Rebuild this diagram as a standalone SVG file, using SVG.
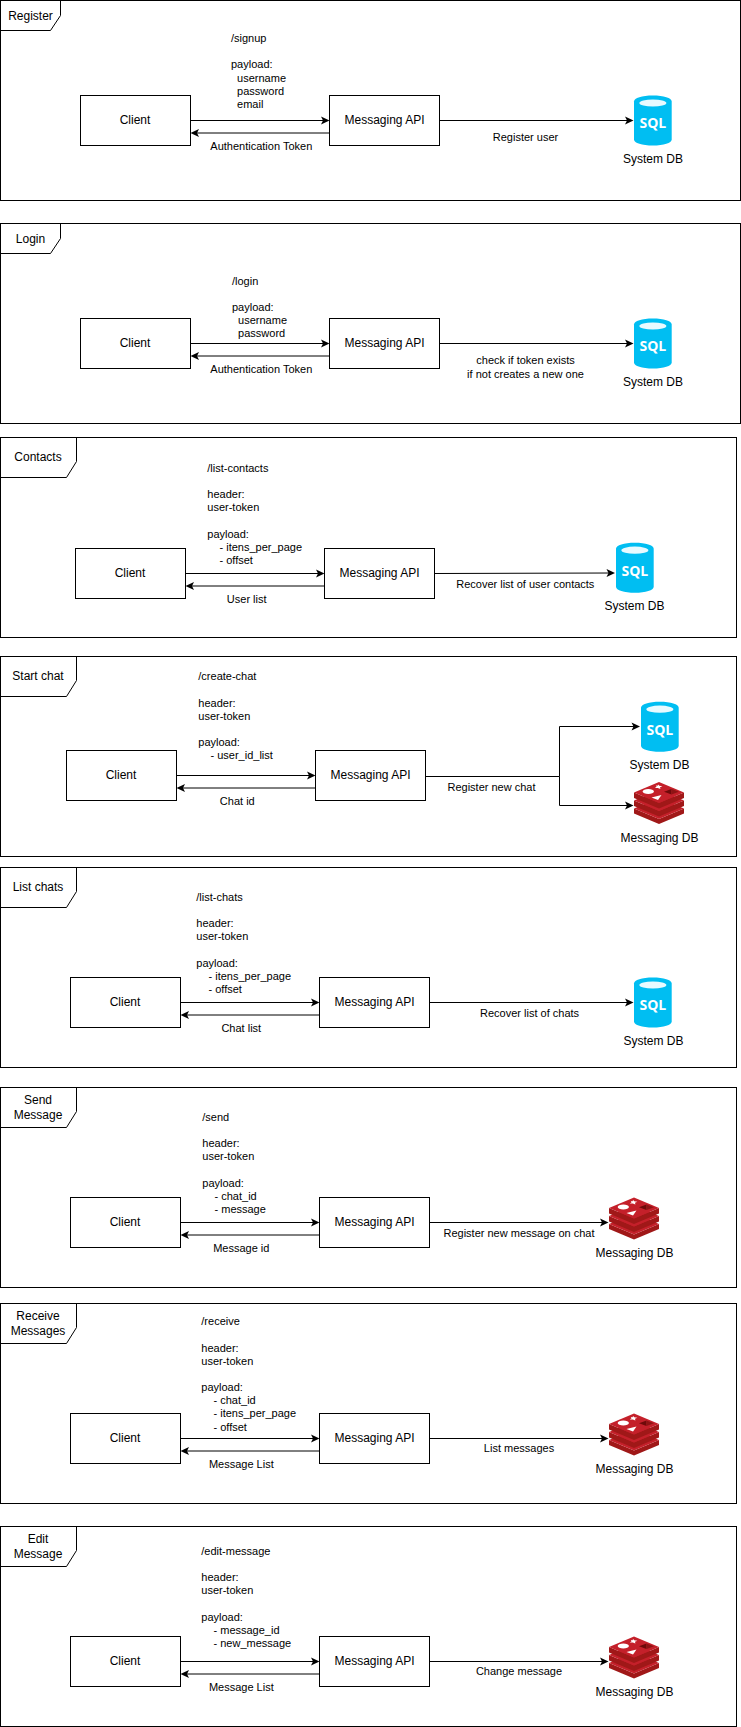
<svg xmlns="http://www.w3.org/2000/svg" width="741" height="1727" viewBox="0 0 741 1727">
<style>
text{font-family:"Liberation Sans",Arial,sans-serif;fill:#000}
.f{fill:none;stroke:#000;stroke-width:1}
.b{fill:#fff;stroke:#000;stroke-width:1}
.n{font-size:12px;text-anchor:middle}
.s{font-size:11px;text-anchor:middle}
.d{font-size:11px}
.c{fill:none;stroke:#000;stroke-width:1;marker-end:url(#ah)}
.q{font-family:"Open Sans","Liberation Sans",sans-serif;font-weight:700;font-size:14px;fill:#fff;text-anchor:middle}
</style>
<defs>
<marker id="ah" markerUnits="userSpaceOnUse" orient="auto" overflow="visible" markerWidth="12" markerHeight="12" refX="0" refY="0" viewBox="-7 -6 12 12">
<path d="M-5.5,-4 L3,0 L-5.5,4 L-3.5,0 Z" fill="#000"/>
</marker>
<g id="sql">
<path d="M0,6 C0,2.5 8,0 18.85,0 C29.7,0 37.7,2.5 37.7,6 V44 C37.7,47.5 29.7,50 18.85,50 C8,50 0,47.5 0,44 Z" fill="#00BEF2"/>
<ellipse cx="18.85" cy="7.5" rx="13.5" ry="3.6" fill="#E8FAFF"/>
</g>
<g id="redis">
<path d="M0,26.5 L25,37 L50,26.5 V31.5 L25,42 L0,31.5 Z" fill="#A01818"/>
<path d="M25,16 L50,26.5 L25,37 L0,26.5 Z" fill="#C4202A"/>
<path d="M0,18.5 L25,29 L50,18.5 V24 L25,34.5 L0,24 Z" fill="#A01818"/>
<path d="M25,8 L50,18.5 L25,29 L0,18.5 Z" fill="#C4202A"/>
<path d="M0,10.5 L25,21 L50,10.5 V16 L25,26.5 L0,16 Z" fill="#A01818"/>
<path d="M25,0 L50,10.5 L25,21 L0,10.5 Z" fill="#C4202A"/>
<ellipse cx="14.3" cy="9.6" rx="5.6" ry="2.5" fill="#fff"/>
<path d="M24,2.4 L25.3,3.8 L28.4,4.3 L26,5.2 L26.4,7 L23.8,5.9 L20.8,6 L22.6,4.7 L21.8,3.4 L23.7,3.8 Z" fill="#fff"/>
<path d="M27.5,13 L24,18 L17.5,15.6 Z" fill="#fff"/>
<path d="M30,9.8 L37.5,6.9 L37.5,12.6 Z" fill="#6F0A0A"/>
<path d="M37.5,6.9 L45,9.8 L37.5,12.6 Z" fill="#8E1414"/>
</g>
</defs>
<rect width="741" height="1727" fill="#fff"/>

<g id="frame-register">
<rect class="f" x="0.5" y="0.5" width="740" height="200"/>
<path class="f" d="M0.5,0.5 H60.5 V15.5 L50.5,30.5 H0.5"/>
<text class="n" x="30.5" y="19.5">Register</text>
</g>
<g id="frame-login">
<rect class="f" x="0.5" y="223.5" width="740" height="200"/>
<path class="f" d="M0.5,223.5 H60.5 V238.5 L50.5,253.5 H0.5"/>
<text class="n" x="30.5" y="242.5">Login</text>
</g>
<g id="frame-contacts">
<rect class="f" x="0.5" y="437.5" width="736" height="200"/>
<path class="f" d="M0.5,437.5 H76.5 V461.5 L66.5,477.5 H0.5"/>
<text class="n" x="38" y="460.5">Contacts</text>
</g>
<g id="frame-start-chat">
<rect class="f" x="0.5" y="656.5" width="736" height="200"/>
<path class="f" d="M0.5,656.5 H76.5 V680.5 L66.5,696.5 H0.5"/>
<text class="n" x="38" y="679.5">Start chat</text>
</g>
<g id="frame-list-chats">
<rect class="f" x="0.5" y="867.5" width="736" height="200"/>
<path class="f" d="M0.5,867.5 H76.5 V891.5 L66.5,907.5 H0.5"/>
<text class="n" x="38" y="890.5">List chats</text>
</g>
<g id="frame-send-message">
<rect class="f" x="0.5" y="1087.5" width="736" height="200"/>
<path class="f" d="M0.5,1087.5 H76.5 V1111.5 L66.5,1127.5 H0.5"/>
<text class="n" x="38" y="1103.5">Send</text>
<text class="n" x="38" y="1118.5">Message</text>
</g>
<g id="frame-receive-messages">
<rect class="f" x="0.5" y="1303.5" width="736" height="200"/>
<path class="f" d="M0.5,1303.5 H76.5 V1327.5 L66.5,1343.5 H0.5"/>
<text class="n" x="38" y="1319.5">Receive</text>
<text class="n" x="38" y="1334.5">Messages</text>
</g>
<g id="frame-edit-message">
<rect class="f" x="0.5" y="1526.5" width="736" height="200"/>
<path class="f" d="M0.5,1526.5 H76.5 V1550.5 L66.5,1566.5 H0.5"/>
<text class="n" x="38" y="1542.5">Edit</text>
<text class="n" x="38" y="1557.5">Message</text>
</g>

<g id="notes">
<text class="d" x="231" y="42">/signup</text>
<text class="d" x="231" y="68">payload:</text>
<text class="d" x="237.1" y="82">username</text>
<text class="d" x="237.1" y="95">password</text>
<text class="d" x="237.1" y="108">email</text>

<text class="d" x="232" y="285">/login</text>
<text class="d" x="232" y="311">payload:</text>
<text class="d" x="238.1" y="324">username</text>
<text class="d" x="238.1" y="337">password</text>

<text class="d" x="207.3" y="472">/list-contacts</text>
<text class="d" x="207.3" y="498">header:</text>
<text class="d" x="207.3" y="511">user-token</text>
<text class="d" x="207.3" y="538">payload:</text>
<text class="d" x="219.5" y="551">- itens_per_page</text>
<text class="d" x="219.5" y="564">- offset</text>

<text class="d" x="198.3" y="680">/create-chat</text>
<text class="d" x="198.3" y="707">header:</text>
<text class="d" x="198.3" y="720">user-token</text>
<text class="d" x="198.3" y="746">payload:</text>
<text class="d" x="210.5" y="759">- user_id_list</text>

<text class="d" x="196.3" y="901">/list-chats</text>
<text class="d" x="196.3" y="927">header:</text>
<text class="d" x="196.3" y="940">user-token</text>
<text class="d" x="196.3" y="967">payload:</text>
<text class="d" x="208.5" y="980">- itens_per_page</text>
<text class="d" x="208.5" y="993">- offset</text>

<text class="d" x="202.3" y="1121">/send</text>
<text class="d" x="202.3" y="1147">header:</text>
<text class="d" x="202.3" y="1160">user-token</text>
<text class="d" x="202.3" y="1187">payload:</text>
<text class="d" x="214.5" y="1200">- chat_id</text>
<text class="d" x="214.5" y="1213">- message</text>

<text class="d" x="201.3" y="1325">/receive</text>
<text class="d" x="201.3" y="1352">header:</text>
<text class="d" x="201.3" y="1365">user-token</text>
<text class="d" x="201.3" y="1391">payload:</text>
<text class="d" x="213.5" y="1404">- chat_id</text>
<text class="d" x="213.5" y="1417">- itens_per_page</text>
<text class="d" x="213.5" y="1431">- offset</text>

<text class="d" x="201.3" y="1555">/edit-message</text>
<text class="d" x="201.3" y="1581">header:</text>
<text class="d" x="201.3" y="1594">user-token</text>
<text class="d" x="201.3" y="1621">payload:</text>
<text class="d" x="213.5" y="1634">- message_id</text>
<text class="d" x="213.5" y="1647">- new_message</text>
</g>

<g id="connectors">
<line class="c" x1="190.5" y1="120.5" x2="326.5" y2="120.5"/>
<line class="c" x1="329.5" y1="133" x2="193.5" y2="133"/>
<line class="c" x1="439.5" y1="120.5" x2="630.5" y2="120.5"/>
<text class="s" x="261.3" y="150">Authentication Token</text>
<text class="s" x="525.5" y="141">Register user</text>

<line class="c" x1="190.5" y1="343.5" x2="326.5" y2="343.5"/>
<line class="c" x1="329.5" y1="356" x2="193.5" y2="356"/>
<line class="c" x1="439.5" y1="343.5" x2="630.5" y2="343.5"/>
<text class="s" x="261.3" y="373">Authentication Token</text>
<text class="s" x="525.5" y="364">check if token exists</text>
<text class="s" x="525.5" y="378">if not creates a new one</text>

<line class="c" x1="185.5" y1="573.5" x2="321.5" y2="573.5"/>
<line class="c" x1="324.5" y1="586" x2="188.5" y2="586"/>
<line class="c" x1="434.5" y1="573.5" x2="612" y2="573"/>
<text class="s" x="246.7" y="603">User list</text>
<text class="s" x="525.3" y="588">Recover list of user contacts</text>

<line class="c" x1="176.5" y1="775.5" x2="312.5" y2="775.5"/>
<line class="c" x1="315.5" y1="788" x2="179.5" y2="788"/>
<path class="c" d="M425.5,776.5 H559.5 V726.5 H637"/>
<path class="c" d="M559.5,776.5 V805.5 H630.5"/>
<text class="s" x="237.3" y="805">Chat id</text>
<text class="s" x="491.5" y="791">Register new chat</text>

<line class="c" x1="180.5" y1="1002.5" x2="316.5" y2="1002.5"/>
<line class="c" x1="319.5" y1="1015" x2="183.5" y2="1015"/>
<line class="c" x1="429.5" y1="1002.5" x2="630.5" y2="1002.5"/>
<text class="s" x="241.3" y="1032">Chat list</text>
<text class="s" x="529.6" y="1017">Recover list of chats</text>

<line class="c" x1="180.5" y1="1222.5" x2="316.5" y2="1222.5"/>
<line class="c" x1="319.5" y1="1235" x2="183.5" y2="1235"/>
<line class="c" x1="429.5" y1="1222.5" x2="605.5" y2="1222.5"/>
<text class="s" x="241.3" y="1252">Message id</text>
<text class="s" x="519" y="1237">Register new message on chat</text>

<line class="c" x1="180.5" y1="1438.5" x2="316.5" y2="1438.5"/>
<line class="c" x1="319.5" y1="1451" x2="183.5" y2="1451"/>
<line class="c" x1="429.5" y1="1438.5" x2="605.5" y2="1438.5"/>
<text class="s" x="241.3" y="1468">Message List</text>
<text class="s" x="519" y="1452">List messages</text>

<line class="c" x1="180.5" y1="1661.5" x2="316.5" y2="1661.5"/>
<line class="c" x1="319.5" y1="1674" x2="183.5" y2="1674"/>
<line class="c" x1="429.5" y1="1661.5" x2="605.5" y2="1661.5"/>
<text class="s" x="241.3" y="1691">Message List</text>
<text class="s" x="519" y="1675">Change message</text>
</g>

<g id="client-1"><rect class="b" x="80.5" y="95.5" width="110" height="50"/><text class="n" x="135" y="124">Client</text></g>
<g id="api-1"><rect class="b" x="329.5" y="95.5" width="110" height="50"/><text class="n" x="384.5" y="124">Messaging API</text></g>
<g id="sql-1"><use href="#sql" x="634" y="95.5"/><text class="q" x="652.85" y="128.3">SQL</text><text class="n" x="653" y="162.5">System DB</text></g>

<g id="client-2"><rect class="b" x="80.5" y="318.5" width="110" height="50"/><text class="n" x="135" y="347">Client</text></g>
<g id="api-2"><rect class="b" x="329.5" y="318.5" width="110" height="50"/><text class="n" x="384.5" y="347">Messaging API</text></g>
<g id="sql-2"><use href="#sql" x="634" y="318.5"/><text class="q" x="652.85" y="351.3">SQL</text><text class="n" x="653" y="385.5">System DB</text></g>

<g id="client-3"><rect class="b" x="75.5" y="548.5" width="110" height="50"/><text class="n" x="130" y="577">Client</text></g>
<g id="api-3"><rect class="b" x="324.5" y="548.5" width="110" height="50"/><text class="n" x="379.5" y="577">Messaging API</text></g>
<g id="sql-3"><use href="#sql" x="616" y="542.7"/><text class="q" x="634.85" y="575.5">SQL</text><text class="n" x="634.5" y="609.5">System DB</text></g>

<g id="client-4"><rect class="b" x="66.5" y="750.5" width="110" height="50"/><text class="n" x="121" y="779">Client</text></g>
<g id="api-4"><rect class="b" x="315.5" y="750.5" width="110" height="50"/><text class="n" x="370.5" y="779">Messaging API</text></g>
<g id="sql-4"><use href="#sql" x="641" y="701.7"/><text class="q" x="659.85" y="734.5">SQL</text><text class="n" x="659.5" y="769">System DB</text></g>
<g id="redis-4"><use href="#redis" x="634" y="782"/><text class="n" x="659.5" y="841.5">Messaging DB</text></g>

<g id="client-5"><rect class="b" x="70.5" y="977.5" width="110" height="50"/><text class="n" x="125" y="1006">Client</text></g>
<g id="api-5"><rect class="b" x="319.5" y="977.5" width="110" height="50"/><text class="n" x="374.5" y="1006">Messaging API</text></g>
<g id="sql-5"><use href="#sql" x="634" y="977.5"/><text class="q" x="652.85" y="1010.3">SQL</text><text class="n" x="653.5" y="1045">System DB</text></g>

<g id="client-6"><rect class="b" x="70.5" y="1197.5" width="110" height="50"/><text class="n" x="125" y="1226">Client</text></g>
<g id="api-6"><rect class="b" x="319.5" y="1197.5" width="110" height="50"/><text class="n" x="374.5" y="1226">Messaging API</text></g>
<g id="redis-6"><use href="#redis" x="609" y="1197.5"/><text class="n" x="634.5" y="1256.5">Messaging DB</text></g>

<g id="client-7"><rect class="b" x="70.5" y="1413.5" width="110" height="50"/><text class="n" x="125" y="1442">Client</text></g>
<g id="api-7"><rect class="b" x="319.5" y="1413.5" width="110" height="50"/><text class="n" x="374.5" y="1442">Messaging API</text></g>
<g id="redis-7"><use href="#redis" x="609" y="1413.5"/><text class="n" x="634.5" y="1472.5">Messaging DB</text></g>

<g id="client-8"><rect class="b" x="70.5" y="1636.5" width="110" height="50"/><text class="n" x="125" y="1665">Client</text></g>
<g id="api-8"><rect class="b" x="319.5" y="1636.5" width="110" height="50"/><text class="n" x="374.5" y="1665">Messaging API</text></g>
<g id="redis-8"><use href="#redis" x="609" y="1636.5"/><text class="n" x="634.5" y="1695.5">Messaging DB</text></g>
</svg>
